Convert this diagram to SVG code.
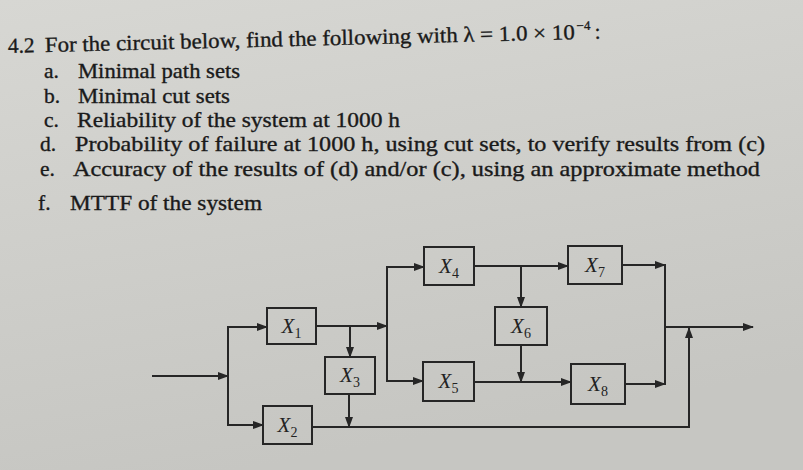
<svg xmlns="http://www.w3.org/2000/svg" width="803" height="470" viewBox="0 0 803 470">
<defs>
<linearGradient id="bg" x1="0" y1="0" x2="0.3" y2="1">
<stop offset="0" stop-color="#d7d7d3"/>
<stop offset="1" stop-color="#c6c6c2"/>
</linearGradient>
<marker id="ah" markerUnits="userSpaceOnUse" markerWidth="11" markerHeight="8" refX="10" refY="4" orient="auto">
<path d="M0,0 L11,4 L0,8 Z" fill="#262626"/>
</marker>
<style>
.t{font-family:"Liberation Serif","Times New Roman",serif;font-size:21.5px;fill:#1a1a1a;stroke:#1a1a1a;stroke-width:0.35}
.box{fill:none;stroke:#262626;stroke-width:2}
.ln{fill:none;stroke:#262626;stroke-width:2}
.ar{marker-end:url(#ah)}
.lbl{font-family:"Liberation Serif","Times New Roman",serif;font-size:21px;fill:#222;text-anchor:middle}
.x{font-style:italic}
.sub{font-size:14px}
</style>
</defs>
<rect width="803" height="470" fill="url(#bg)"/>
<g id="question">
<g transform="rotate(-1.4 8 53)">
<text class="t" x="8" y="53">4.2</text>
<text class="t" x="45" y="53" textLength="530" lengthAdjust="spacingAndGlyphs">For the circuit below, find the following with λ = 1.0 × 10</text>
<text class="t" x="577" y="44" style="font-size:13px">−4</text>
<text class="t" x="595" y="53">:</text>
</g>
<text class="t" x="44" y="78">a.</text>
<text class="t" x="78" y="78" textLength="162" lengthAdjust="spacingAndGlyphs">Minimal path sets</text>
<text class="t" x="44" y="103">b.</text>
<text class="t" x="78" y="103" textLength="152" lengthAdjust="spacingAndGlyphs">Minimal cut sets</text>
<text class="t" x="44" y="127">c.</text>
<text class="t" x="77" y="127" textLength="323" lengthAdjust="spacingAndGlyphs">Reliability of the system at 1000 h</text>
<text class="t" x="40" y="151">d.</text>
<text class="t" x="75" y="151" textLength="690" lengthAdjust="spacingAndGlyphs">Probability of failure at 1000 h, using cut sets, to verify results from (c)</text>
<text class="t" x="40" y="176">e.</text>
<text class="t" x="73" y="176" textLength="687" lengthAdjust="spacingAndGlyphs">Accuracy of the results of (d) and/or (c), using an approximate method</text>
<text class="t" x="38" y="210">f.</text>
<text class="t" x="70" y="210" textLength="192" lengthAdjust="spacingAndGlyphs">MTTF of the system</text>
</g>
<g id="connectors">
<path class="ln ar" d="M152,376 H228"/>
<path class="ln" d="M228,326 V426"/>
<path class="ln ar" d="M228,327 H267"/>
<path class="ln ar" d="M228,425 H263"/>
<path class="ln ar" d="M316,326 H387"/>
<path class="ln ar" d="M350,326 V357"/>
<path class="ln ar" d="M349,394 V427"/>
<path class="ln ar" d="M312,427 H689 V328"/>
<path class="ln" d="M387,266 V382"/>
<path class="ln ar" d="M387,267 H424"/>
<path class="ln ar" d="M387,381 H423"/>
<path class="ln ar" d="M474,266 H568"/>
<path class="ln ar" d="M521,266 V307"/>
<path class="ln ar" d="M521,345 V382"/>
<path class="ln ar" d="M474,382 H571"/>
<path class="ln ar" d="M622,265 H665"/>
<path class="ln ar" d="M625,384 H665"/>
<path class="ln" d="M665,264 V385"/>
<path class="ln ar" d="M665,327 H753"/>
</g>
<g id="X1"><rect class="box" x="267" y="308" width="49" height="36"/><text class="lbl" x="291.5" y="333"><tspan class="x">X</tspan><tspan class="sub" dy="5">1</tspan></text></g>
<g id="X2"><rect class="box" x="263" y="406" width="49" height="38"/><text class="lbl" x="287.5" y="432"><tspan class="x">X</tspan><tspan class="sub" dy="5">2</tspan></text></g>
<g id="X3"><rect class="box" x="325" y="357" width="50" height="37"/><text class="lbl" x="350" y="382"><tspan class="x">X</tspan><tspan class="sub" dy="5">3</tspan></text></g>
<g id="X4"><rect class="box" x="424" y="247" width="50" height="38"/><text class="lbl" x="449" y="273"><tspan class="x">X</tspan><tspan class="sub" dy="5">4</tspan></text></g>
<g id="X5"><rect class="box" x="423" y="362" width="51" height="39"/><text class="lbl" x="448.5" y="388"><tspan class="x">X</tspan><tspan class="sub" dy="5">5</tspan></text></g>
<g id="X6"><rect class="box" x="495" y="307" width="52" height="38"/><text class="lbl" x="521" y="333"><tspan class="x">X</tspan><tspan class="sub" dy="5">6</tspan></text></g>
<g id="X7"><rect class="box" x="568" y="246" width="54" height="38"/><text class="lbl" x="595" y="272"><tspan class="x">X</tspan><tspan class="sub" dy="5">7</tspan></text></g>
<g id="X8"><rect class="box" x="571" y="364" width="54" height="40"/><text class="lbl" x="598" y="391"><tspan class="x">X</tspan><tspan class="sub" dy="5">8</tspan></text></g>
</svg>
